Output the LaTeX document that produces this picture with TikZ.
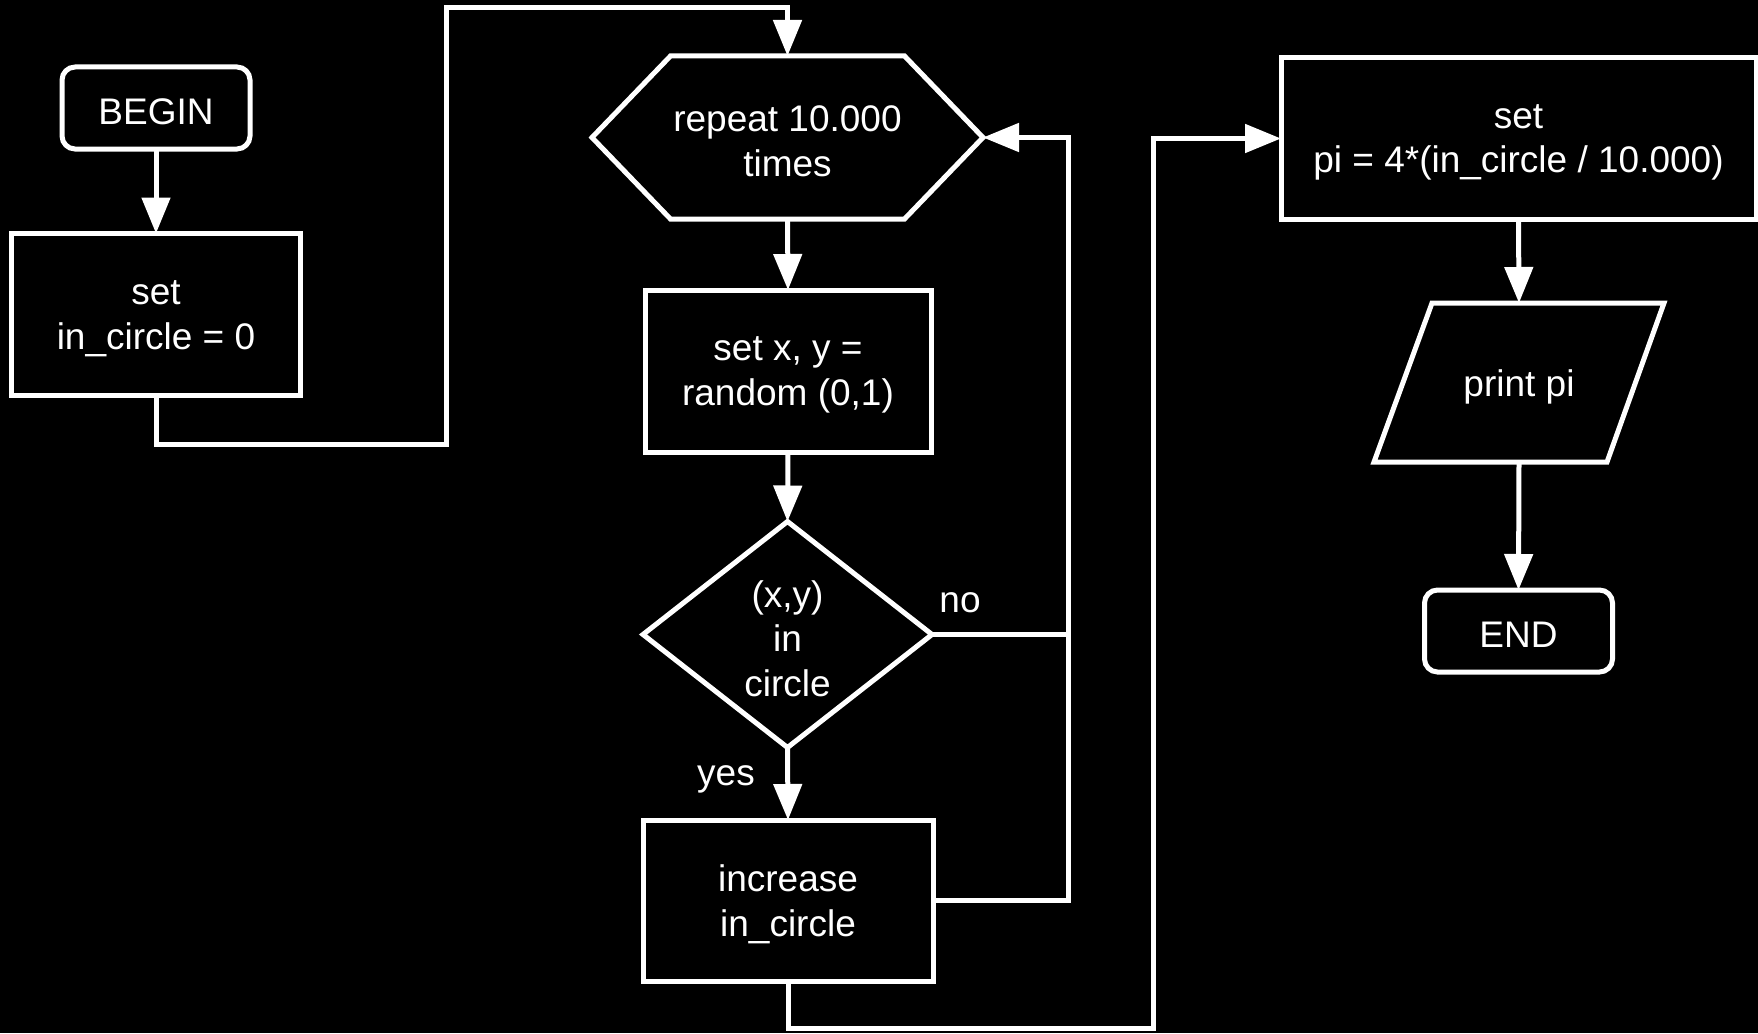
\documentclass[tikz,border=0pt]{standalone}
\usepackage{fontspec}
\setmainfont{Liberation Sans}
\usetikzlibrary{arrows.meta,calc}
\begin{document}
\begin{tikzpicture}[x=1pt,y=-1pt,
  every node/.style={text=white, font=\fontsize{37}{44.5}\selectfont, align=center,
                     inner sep=0pt, outer sep=0pt},
  % text sits a little below the geometric centre of its shape
  caption/.style={label={[yshift=-4pt]center:#1}},
  outline/.style={draw=white, line width=5pt},
  terminal/.style={outline, rounded corners=13pt, minimum width=188pt, minimum height=82pt},
  procbox/.style={outline, minimum height=162pt},
  link/.style={draw=white, line width=5pt},
  arrow/.style={link, -{Triangle[length=36pt,width=28pt]}}
]
% canvas
\fill[black] (0,0) rectangle (1758,1033);
\useasboundingbox (0,0) rectangle (1758,1033);

% left column
\node[terminal, caption=BEGIN] (begin) at (156,108) {};
\node[procbox, minimum width=289pt, caption={set\\in\_circle = 0}] (init) at (156,314.5) {};

% middle column
\node[minimum width=391pt, minimum height=163pt, caption={repeat 10.000\\times}] (hex) at (787.5,137.5) {};
\draw[outline] (hex.west) -- ($(hex.north)+(-117,0)$) -- ($(hex.north)+(117,0)$)
  -- (hex.east) -- ($(hex.south)+(117,0)$) -- ($(hex.south)+(-117,0)$) -- cycle;
\node[procbox, minimum width=286pt, caption={set x, y =\\random (0,1)}] (setxy) at (788,371) {};
\node[minimum width=289pt, minimum height=226pt, caption={(x,y)\\in\\circle}] (dia) at (787.5,634.5) {};
\draw[outline] (dia.north) -- (dia.east) -- (dia.south) -- (dia.west) -- cycle;
\node[procbox, minimum width=290pt, minimum height=161pt, caption={increase\\in\_circle}] (incr) at (788,900.5) {};

% right column
\node[procbox, minimum width=475pt, minimum height=161pt,
      caption={set\\pi = 4*(in\_circle / 10.000)}] (setpi) at (1518.5,138.5) {};
\node[minimum width=232pt, minimum height=159pt, caption={print pi}] (out) at (1519,382.5) {};
\draw[outline] ($(out.north)+(-87,0)$) -- ($(out.north)+(145,0)$)
  -- ($(out.south)+(88,0)$) -- ($(out.south)+(-145,0)$) -- cycle;
\node[terminal, caption=END] (end) at (1518.5,631) {};

% branch labels
\node (no) at (960,603) {no};
\node (yes) at (726,779) {yes};

% routing points
\coordinate (j1) at (446,444);
\coordinate (j2) at (446,8);
\coordinate (loop) at (1068,137.5);
\coordinate (j4) at (1153,1028);

% connectors
\draw[arrow] (begin) -- (init);
\draw[arrow] (init.south) |- (j1) -- (j2) -| (hex.north);
\draw[arrow] (hex.south) -- (setxy.north);
\draw[arrow] (setxy.south) -- (dia.north);
\draw[arrow] (dia.south) -- (incr.north);
\draw[link] (dia.east) -- (dia.east -| loop);
\draw[arrow] (incr.east) -| (loop) -- (hex.east);
\draw[arrow] (incr.south) |- (j4) |- (setpi.west);
\draw[arrow] (setpi.south) -- (out.north);
\draw[arrow] (out.south) -- (end.north);
\end{tikzpicture}
\end{document}
